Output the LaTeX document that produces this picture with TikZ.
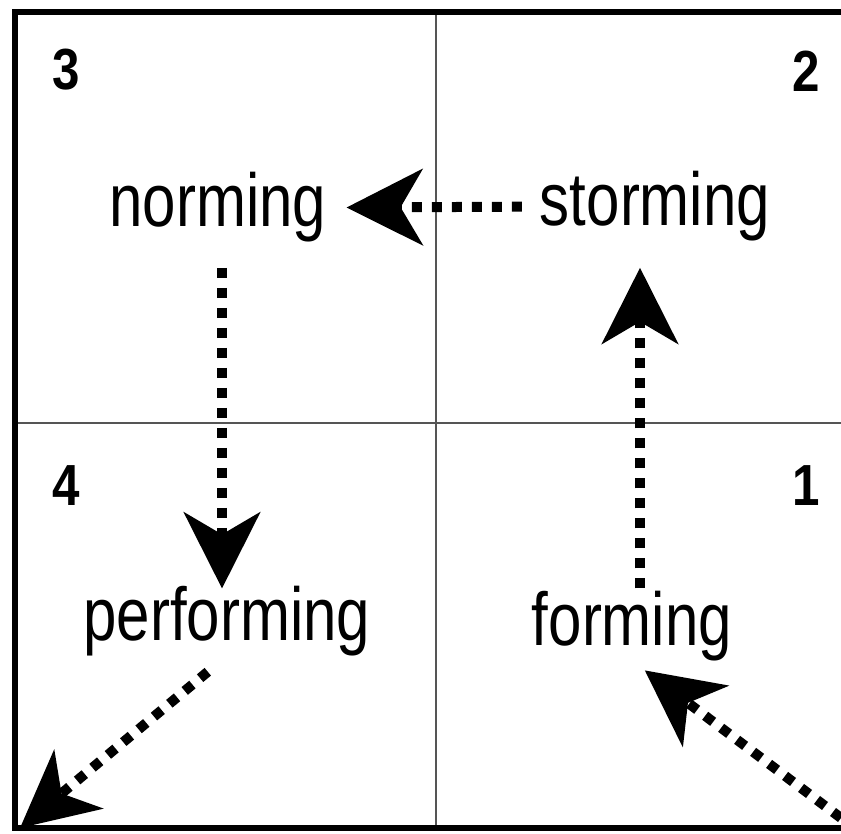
\documentclass[tikz,border=0pt]{standalone}
\usepackage{fontspec}
\setmainfont{Liberation Sans}
\usetikzlibrary{arrows.meta,positioning}
\definecolor{txt}{HTML}{000000}
\definecolor{grid}{HTML}{555555}

\begin{document}
\begin{tikzpicture}[
  x=1pt, y=-1pt,
  stage/.style={font=\fontsize{75}{80}\selectfont, xscale=0.8, inner sep=0pt, anchor=base, text=txt},
  num/.style={font=\fontsize{58}{60}\selectfont\bfseries, xscale=0.85, inner sep=0pt, anchor=base, text=txt},
  flow/.style={line width=10pt, color=txt, dash pattern=on 10pt off 10pt, -{Stealth[length=76pt, width=76pt, inset=22pt]}},
  frame/.style={line width=5.5pt, color=txt},
  divider/.style={line width=2pt, color=grid},
]
\useasboundingbox (0,0) rectangle (841,834);

% quadrants
\draw[divider] (436,12) -- (436,828);
\draw[divider] (15,423) -- (841,423);
\draw[frame] (841,12) -- (15,12) -- (15,828) -- (841,828);

\node[num] (q3) at (66,90) {3};
\node[num] (q2) at (806,92) {2};
\node[num] (q4) at (66,505) {4};
\node[num] (q1) at (806,505) {1};

\node[stage] (norming) at (218,227) {norming};
\node[stage] (storming) at (655,226) {storming};
\node[stage] (performing) at (227,640) {performing};
\node[stage] (forming) at (632,645) {forming};

\coordinate (enter) at (841,818);
\coordinate (leave) at (20,828);

\draw[flow, shorten >=16pt] (enter) -- (forming.south);
\draw[flow, shorten <=2pt, shorten >=26pt] ([xshift=8pt]forming.north) -- ([xshift=-15pt]storming.south);
\draw[flow, shorten <=18pt, shorten >=20pt] (storming.west) -- (norming.east);
\draw[flow, shorten <=25pt, shorten >=-3pt] ([xshift=4pt]norming.south) -- ([xshift=-5pt]performing.north);
\draw[flow, shorten <=25pt] (performing.south) -- (leave);

\end{tikzpicture}
\end{document}
